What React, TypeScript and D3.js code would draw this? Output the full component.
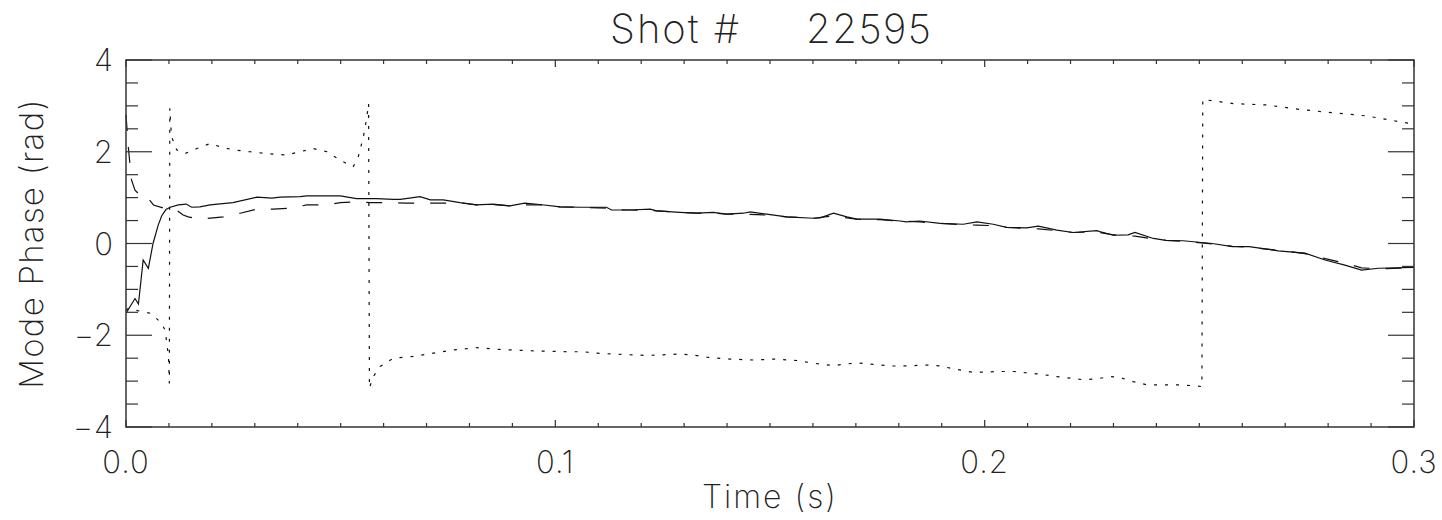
import React from "react";
import * as d3 from "d3";

const titleLeft = "Shot #";
const titleRight = "22595";
const xLabel = "Time (s)";
const yLabel = "Mode Phase (rad)";
const xTickValues = [0.0, 0.1, 0.2, 0.3];
const xTickLabels = ["0.0", "0.1", "0.2", "0.3"];
const yTickValues = [-4, -2, 0, 2, 4];
const yTickLabels = ["\u22124", "\u22122", "0", "2", "4"];

const solidT = [0.0, 0.0002, 0.0021, 0.0029, 0.004, 0.0052, 0.0063, 0.0075, 0.0083, 0.0093, 0.0103, 0.0122, 0.014, 0.0153, 0.0172, 0.0196, 0.0249, 0.0305, 0.034, 0.0359, 0.0405, 0.0421, 0.0452, 0.0499, 0.0537, 0.0584, 0.0623, 0.0639, 0.0685, 0.0709, 0.0739, 0.0778, 0.0816, 0.0855, 0.0894, 0.0929, 0.0964, 0.1011, 0.1058, 0.1119, 0.1131, 0.1174, 0.1221, 0.1236, 0.129, 0.1329, 0.1368, 0.1399, 0.1438, 0.1454, 0.1492, 0.1539, 0.1601, 0.1617, 0.1648, 0.1679, 0.1702, 0.1756, 0.1803, 0.1818, 0.1849, 0.1896, 0.195, 0.1982, 0.202, 0.2051, 0.2098, 0.2125, 0.2168, 0.2206, 0.2261, 0.2268, 0.23, 0.2334, 0.235, 0.2393, 0.2422, 0.2462, 0.253, 0.2577, 0.2616, 0.2684, 0.2746, 0.2793, 0.2839, 0.2878, 0.2917, 0.3];
const solidV = [-1.5, -1.49, -1.2, -1.32, -0.36, -0.54, 0.0, 0.4, 0.6, 0.74, 0.79, 0.84, 0.86, 0.79, 0.8, 0.84, 0.89, 1.01, 0.99, 1.01, 1.02, 1.04, 1.04, 1.04, 0.98, 0.98, 0.96, 0.96, 1.02, 0.95, 0.95, 0.89, 0.84, 0.86, 0.82, 0.88, 0.85, 0.8, 0.79, 0.79, 0.73, 0.73, 0.75, 0.71, 0.68, 0.66, 0.68, 0.64, 0.66, 0.69, 0.64, 0.58, 0.55, 0.56, 0.66, 0.58, 0.53, 0.53, 0.49, 0.47, 0.49, 0.44, 0.42, 0.47, 0.42, 0.35, 0.34, 0.38, 0.29, 0.24, 0.28, 0.26, 0.18, 0.19, 0.24, 0.11, 0.07, 0.06, 0.0, -0.07, -0.07, -0.16, -0.21, -0.36, -0.47, -0.58, -0.54, -0.52];

const dashedT = [0.0, 0.0002, 0.0005, 0.0009, 0.0013, 0.0021, 0.0033, 0.0044, 0.0052, 0.0064, 0.0095, 0.0112, 0.0133, 0.0145, 0.0172, 0.0227, 0.0266, 0.0305, 0.0343, 0.0382, 0.0421, 0.0468, 0.0499, 0.0538, 0.0568, 0.0626, 0.065, 0.07, 0.0739, 0.0778, 0.0816, 0.0855, 0.0894, 0.0929, 0.0964, 0.1011, 0.1058, 0.1119, 0.1131, 0.1174, 0.1221, 0.129, 0.1329, 0.1368, 0.1399, 0.1438, 0.1492, 0.1539, 0.1601, 0.1648, 0.1679, 0.1702, 0.1756, 0.1803, 0.1849, 0.1896, 0.195, 0.1982, 0.202, 0.2051, 0.2098, 0.2125, 0.2168, 0.2206, 0.2261, 0.23, 0.2334, 0.235, 0.2393, 0.2422, 0.2462, 0.253, 0.2577, 0.2616, 0.2684, 0.2746, 0.2793, 0.2839, 0.2878, 0.2917, 0.3];
const dashedV = [2.8, 2.55, 2.15, 1.75, 1.38, 1.16, 1.05, 1.08, 0.98, 0.84, 0.75, 0.77, 0.62, 0.58, 0.53, 0.58, 0.66, 0.75, 0.75, 0.77, 0.84, 0.84, 0.89, 0.91, 0.89, 0.89, 0.88, 0.88, 0.88, 0.89, 0.84, 0.85, 0.82, 0.84, 0.84, 0.8, 0.79, 0.77, 0.74, 0.73, 0.72, 0.68, 0.66, 0.66, 0.64, 0.64, 0.62, 0.58, 0.55, 0.6, 0.56, 0.53, 0.52, 0.49, 0.47, 0.44, 0.41, 0.4, 0.39, 0.35, 0.33, 0.32, 0.28, 0.24, 0.25, 0.19, 0.17, 0.16, 0.1, 0.07, 0.05, -0.01, -0.06, -0.08, -0.15, -0.22, -0.33, -0.43, -0.53, -0.55, -0.53];

const dottedT = [0.0, 0.0005, 0.0056, 0.0079, 0.0091, 0.0095, 0.0099, 0.0101, 0.0102, 0.0106, 0.0118, 0.0137, 0.0165, 0.0196, 0.0219, 0.025, 0.0289, 0.0328, 0.0374, 0.0405, 0.0436, 0.0468, 0.0498, 0.0529, 0.0541, 0.0553, 0.0561, 0.0565, 0.0567, 0.0576, 0.0592, 0.0623, 0.0662, 0.0716, 0.0762, 0.0817, 0.0871, 0.0949, 0.1027, 0.1065, 0.1096, 0.1135, 0.1213, 0.129, 0.1321, 0.1353, 0.1407, 0.1461, 0.1508, 0.1562, 0.1617, 0.1648, 0.1702, 0.1756, 0.1787, 0.1803, 0.1873, 0.1896, 0.1927, 0.1974, 0.2036, 0.2067, 0.2121, 0.2168, 0.223, 0.2261, 0.2292, 0.2315, 0.2346, 0.2378, 0.2455, 0.2486, 0.2506, 0.2508, 0.2579, 0.2657, 0.2736, 0.2812, 0.289, 0.3];
const dottedV = [-1.45, -1.42, -1.52, -1.7, -1.88, -2.17, -2.47, -3.05, 2.95, 2.33, 2.04, 1.96, 2.07, 2.18, 2.11, 2.04, 2.0, 1.96, 1.93, 2.0, 2.07, 2.0, 1.82, 1.67, 1.89, 2.33, 2.76, 3.05, -3.15, -2.9, -2.68, -2.5, -2.47, -2.39, -2.32, -2.27, -2.31, -2.34, -2.36, -2.36, -2.39, -2.41, -2.44, -2.41, -2.43, -2.48, -2.52, -2.54, -2.52, -2.55, -2.63, -2.66, -2.6, -2.65, -2.67, -2.67, -2.65, -2.67, -2.73, -2.81, -2.79, -2.79, -2.84, -2.9, -2.97, -2.95, -2.9, -2.92, -3.01, -3.08, -3.08, -3.1, -3.12, 3.14, 3.05, 3.02, 2.92, 2.85, 2.78, 2.6];

const W = 1442;
const H = 520;
const left = 126;
const right = 1414;
const top = 60;
const bottom = 427;

const FONT = "Inter, 'DejaVu Sans', sans-serif";
const TXT = "#222";
const FW = 200;

export default function App() {
  const x = d3.scaleLinear().domain([0, 0.3]).range([left, right]);
  const y = d3.scaleLinear().domain([-4, 4]).range([bottom, top]);
  const toPts = (ts: number[], vs: number[]) => ts.map((t, i) => [t, vs[i]] as [number, number]);
  const line = d3
    .line<[number, number]>()
    .x((d) => x(d[0]))
    .y((d) => y(d[1]));

  const xMinor = d3.range(0, 31).map((i) => i / 100);
  const yMinor = d3.range(-8, 9).map((i) => i / 2);

  return (
    <svg width={W} height={H} style={{ position: "absolute", left: 0, top: 0, background: "#fff" }}>
      <rect x={0} y={0} width={W} height={H} fill="#fff" />
      <text x={610} y={43} fontFamily={FONT} fontWeight={FW} fontSize={40} letterSpacing={2} fill={TXT}>
        {titleLeft}
      </text>
      <text x={806} y={43} fontFamily={FONT} fontWeight={FW} fontSize={40} letterSpacing={1.5} fill={TXT}>
        {titleRight}
      </text>

      <path d={line(toPts(dottedT, dottedV)) || ""} fill="none" stroke="#111" strokeWidth={1.2} strokeDasharray="3,8" />
      <path d={line(toPts(dashedT, dashedV)) || ""} fill="none" stroke="#111" strokeWidth={1.2} strokeDasharray="16,16" />
      <path d={line(toPts(solidT, solidV)) || ""} fill="none" stroke="#111" strokeWidth={1.2} />

      <rect x={left} y={top} width={right - left} height={bottom - top} fill="none" stroke="#333" strokeWidth={1.5} />

      {xMinor.map((t, i) => {
        const major = i % 10 === 0;
        const len = major ? 7 : 4;
        return (
          <g key={"xt" + i}>
            <line x1={x(t)} x2={x(t)} y1={bottom} y2={bottom - len} stroke="#333" strokeWidth={1.2} />
            <line x1={x(t)} x2={x(t)} y1={top} y2={top + len} stroke="#333" strokeWidth={1.2} />
          </g>
        );
      })}
      {yMinor.map((v, i) => {
        const major = i % 4 === 0;
        const len = major ? 26 : 12;
        return (
          <g key={"yt" + i}>
            <line x1={left} x2={left + len} y1={y(v)} y2={y(v)} stroke="#333" strokeWidth={1.2} />
            <line x1={right} x2={right - len} y1={y(v)} y2={y(v)} stroke="#333" strokeWidth={1.2} />
          </g>
        );
      })}

      {xTickValues.map((t, i) => (
        <text key={"xl" + i} x={x(t)} y={473} textAnchor="middle" fontFamily={FONT} fontWeight={FW} fontSize={31} letterSpacing={1} fill={TXT}>
          {xTickLabels[i]}
        </text>
      ))}
      {yTickValues.map((v, i) => (
        <text key={"yl" + i} x={114} y={y(v) + 11} textAnchor="end" fontFamily={FONT} fontWeight={FW} fontSize={31} letterSpacing={1} fill={TXT}>
          {yTickLabels[i]}
        </text>
      ))}

      <text x={(left + right) / 2} y={508} textAnchor="middle" fontFamily={FONT} fontWeight={FW} fontSize={32} letterSpacing={2} fill={TXT}>
        {xLabel}
      </text>
      <text transform={`translate(43, ${(top + bottom) / 2}) rotate(-90)`} textAnchor="middle" fontFamily={FONT} fontWeight={FW} fontSize={33} letterSpacing={1.3} fill={TXT}>
        {yLabel}
      </text>
    </svg>
  );
}
